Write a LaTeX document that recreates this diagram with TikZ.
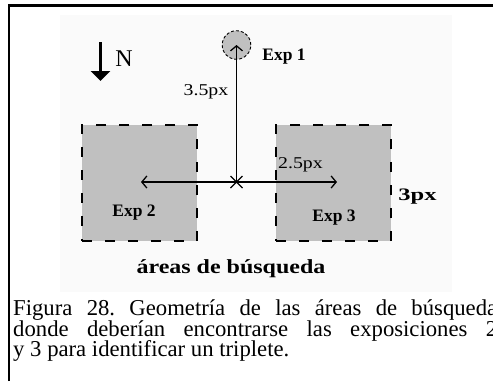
\documentclass[tikz,border=0pt]{standalone}
\usepackage{fontspec}
\setmainfont{Liberation Serif}
\usetikzlibrary{arrows.meta}
\definecolor{sqgray}{HTML}{C0C0C0}
\definecolor{bggray}{HTML}{FAFAFA}
\newcommand{\fsz}[1]{\fontsize{#1}{#1}\selectfont}
\frenchspacing
\begin{document}
\begin{tikzpicture}[x=1pt,y=-1pt,
  sq/.style={draw=black, line width=2pt, dash pattern=on 10pt off 13pt, fill=sqgray,
             minimum width=115pt, minimum height=116pt, inner sep=0pt},
  expc/.style={circle, draw=black, line width=0.9pt, dash pattern=on 3pt off 2pt, fill=sqgray,
             minimum size=28.6pt, inner sep=0pt},
  lbl/.style={anchor=base, inner sep=0pt},
  boldlbl/.style={lbl, font=\fsz{17.5}\bfseries},
  dimline/.style={line width=1.3pt},
  barb/.tip={Straight Barb[length=5pt,width=12pt]},
  captxt/.style={anchor=base west, inner sep=0pt, font=\fsz{22.7}\frenchspacing},
]
\useasboundingbox (0,0) rectangle (493,381);
\clip (0,0) rectangle (493,381);
\fill[white] (0,0) rectangle (493,381);
% faint background area of the figure
\fill[bggray] (60,15) rectangle (452,292);
% frame
\draw[line width=2.5pt] (9,381) -- (9,5.5) -- (493,5.5);
% search areas
\node[sq] (s2) at (139.5,183) {};
\node[sq] (s3) at (333.5,183) {};
% exposure 1
\node[expc] (e1) at (236.5,45) {};
% centre and arrows
\coordinate (X) at (236.5,182);
\coordinate (hl) at (141,182);
\coordinate (hr) at (337,182);
\draw[dimline, barb-barb] (hl) -- (hr);
\draw[dimline, -barb] (X) -- (e1.center);
\draw[dimline] (X) +(-6,-6) -- +(6,6) (X) +(-6,6) -- +(6,-6);
% north arrow
\coordinate (na) at (100.5,42);
\coordinate (nb) at (100.5,81);
\draw[line width=3pt, -{Triangle[length=10pt,width=19pt]}] (na) -- (nb);
\node[lbl, font=\fsz{24}] (N) at (124,66.7) {N};
% labels
\node[boldlbl] (l1) at (284,60.7) {Exp 1};
\node[boldlbl] (l2) at (134,216.7) {Exp 2};
\node[boldlbl] (l3) at (334,221.7) {Exp 3};
\node[lbl] (d35) at (206,95) {\scalebox{1.2}[1]{\fsz{16.5}3.5px}};
\node[lbl] (d25) at (300.5,168.3) {\scalebox{1.2}[1]{\fsz{16.5}2.5px}};
\node[lbl] (d3) at (417.5,200.7) {\scalebox{1.4}[1]{\fsz{17.5}\bfseries 3px}};
\node[lbl] (areas) at (231,273) {\scalebox{1.2}[1]{\fsz{20}\bfseries áreas de búsqueda}};
% caption
\node[captxt] (c1) at (13,315) {\makebox[484pt][s]{Figura 28. Geometría de las áreas de búsqueda}};
\node[captxt] (c2) at (13,336) {\makebox[484pt][s]{donde deberían encontrarse las exposiciones 2}};
\node[captxt] (c3) at (13,356.7) {y 3 para identificar un triplete.};
\end{tikzpicture}
\end{document}
